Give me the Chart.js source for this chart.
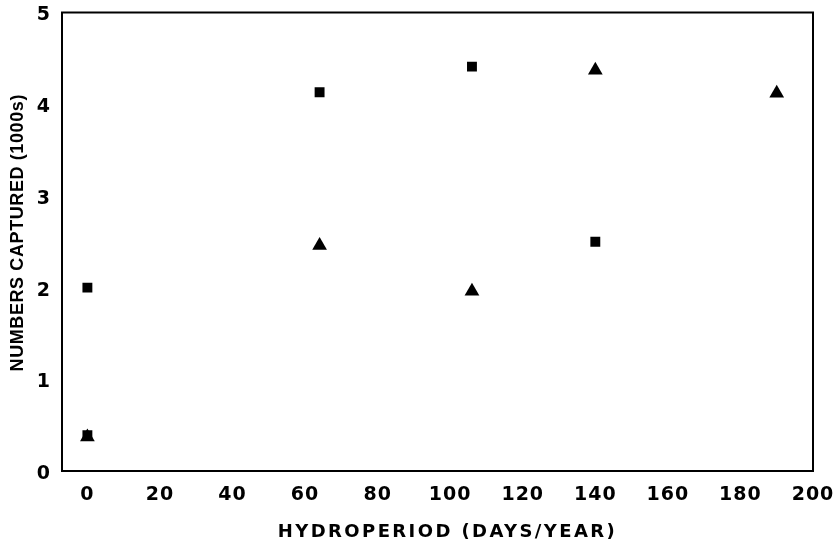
<!DOCTYPE html>
<html>
<head>
<meta charset="utf-8">
<script src="https://cdn.jsdelivr.net/npm/chart.js@4"></script>
<style>
  html, body { margin: 0; padding: 0; background: #fff; }
  #wrap { width: 837px; height: 546px; }
</style>
</head>
<body>
<div id="wrap"><canvas id="c" width="837" height="546"></canvas></div>
<script>
// ---- data ----
const squareX = [0, 0, 64, 106, 140];
const squareY = [2.0, 0.39, 4.13, 4.41, 2.5];
const triangleX = [0, 64, 106, 140, 190];
const triangleY = [0.37, 2.46, 1.96, 4.37, 4.12];
const xTickValues = [0, 20, 40, 60, 80, 100, 120, 140, 160, 180, 200];
const yTickValues = [0, 1, 2, 3, 4, 5];
const xTitle = 'HYDROPERIOD (DAYS/YEAR)';
const yTitle = 'NUMBERS CAPTURED (1000s)';

const squarePoints = squareX.map((x, i) => ({ x: x, y: squareY[i] }));
const trianglePoints = triangleX.map((x, i) => ({ x: x, y: triangleY[i] }));

const boxPlugin = {
  id: 'boxAndSpacing',
  beforeDraw(chart) {
    chart.ctx.letterSpacing = '1px';
    ['x', 'y'].forEach(id => {
      const s = chart.scales[id];
      if (s && !s._patchedTitle) {
        const orig = s.drawTitle.bind(s);
        s.drawTitle = function () {
          const ctx = this.ctx;
          ctx.save();
          if (id === 'x') {
            ctx.letterSpacing = '2.4px';
            ctx.translate(10, 0);
          } else {
            ctx.letterSpacing = '0.6px';
            ctx.translate(0, -9);
          }
          orig();
          ctx.restore();
        };
        s._patchedTitle = true;
      }
    });
  },
  afterDraw(chart) {
    const a = chart.chartArea;
    const ctx = chart.ctx;
    ctx.save();
    ctx.strokeStyle = '#000';
    ctx.lineWidth = 2;
    ctx.strokeRect(a.left, a.top, a.right - a.left, a.bottom - a.top);
    ctx.restore();
  }
};

new Chart(document.getElementById('c'), {
  type: 'scatter',
  data: {
    datasets: [
      {
        label: 'squares',
        data: squarePoints,
        pointStyle: 'rect',
        pointRadius: 7,
        backgroundColor: '#000',
        borderColor: '#000',
        borderWidth: 0
      },
      {
        label: 'triangles',
        data: trianglePoints,
        pointStyle: 'triangle',
        pointRadius: 8.5,
        backgroundColor: '#000',
        borderColor: '#000',
        borderWidth: 0
      }
    ]
  },
  options: {
    responsive: false,
    animation: false,
    layout: { padding: { top: 12.5, right: 24, left: 0, bottom: 0 } },
    plugins: {
      legend: { display: false },
      tooltip: { enabled: false }
    },
    scales: {
      x: {
        type: 'linear',
        min: -7,
        max: 200,
        afterBuildTicks: s => { s.ticks = xTickValues.map(v => ({ value: v })); },
        afterFit: s => { s.height = 75; s.paddingLeft = 0; s.paddingRight = 0; },
        grid: { display: false, drawTicks: false },
        border: { display: false },
        ticks: {
          color: '#000',
          padding: 13,
          font: { family: 'DejaVu Sans', weight: 'bold', size: 19 }
        },
        title: {
          display: true,
          text: xTitle,
          color: '#000',
          padding: { top: 0, bottom: 3 },
          font: { family: 'DejaVu Sans', weight: 'bold', size: 18 }
        }
      },
      y: {
        type: 'linear',
        min: 0,
        max: 5,
        afterBuildTicks: s => { s.ticks = yTickValues.map(v => ({ value: v })); },
        afterFit: s => { s.width = 62; s.paddingTop = 0; s.paddingBottom = 0; },
        grid: { display: false, drawTicks: false },
        border: { display: false },
        ticks: {
          color: '#000',
          padding: 11,
          labelOffset: 3,
          font: { family: 'DejaVu Sans', weight: 'bold', size: 19 }
        },
        title: {
          display: true,
          text: yTitle,
          color: '#000',
          padding: { top: 7, bottom: 0 },
          font: { family: 'Liberation Sans', weight: 'bold', size: 18 }
        }
      }
    }
  },
  plugins: [boxPlugin]
});
</script>
</body>
</html>
